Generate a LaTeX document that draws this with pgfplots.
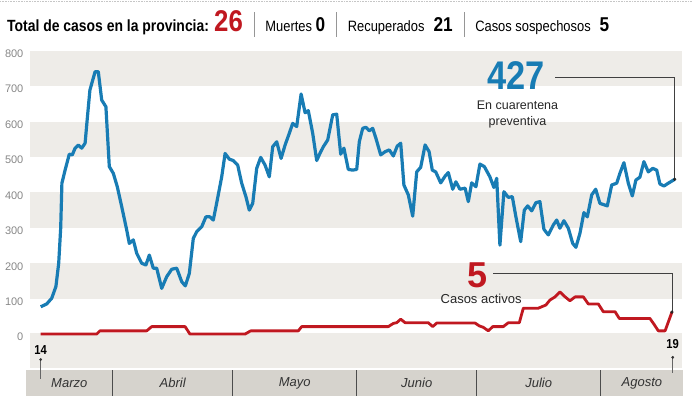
\documentclass[border=0pt]{standalone}
\usepackage{pgfplots}
\pgfplotsset{compat=1.18}
\usepackage{fontspec}
\setmainfont{Liberation Sans}
\newfontfamily\cond[FakeStretch=0.86]{Liberation Sans}
\definecolor{lineblue}{RGB}{24,124,180}
\definecolor{linered}{RGB}{192,24,32}
\definecolor{band}{RGB}{238,236,232}
\definecolor{monthbar}{RGB}{214,211,205}
\definecolor{ticktext}{RGB}{135,135,135}
\definecolor{sep}{RGB}{150,150,150}
\begin{document}
\begin{tikzpicture}[x=1pt,y=1pt]
\path[use as bounding box] (0,0) rectangle (692,396);
\draw[gray!45, densely dotted, line width=0.6pt] (0,394.5) -- (692,394.5);
\node[anchor=base west, inner sep=0] at (7,364) {\cond
 {\bfseries\fontsize{16.2}{17}\selectfont Total de casos en la provincia: }%
 {\color{linered}\bfseries\fontsize{30}{30}\selectfont 26}\hspace{11pt}%
 {\color{sep}\rule[-5pt]{0.6pt}{25pt}}\hspace{11pt}%
 {\fontsize{15}{16}\selectfont Muertes }{\bfseries\fontsize{20}{20}\selectfont 0}\hspace{11pt}%
 {\color{sep}\rule[-5pt]{0.6pt}{25pt}}\hspace{11pt}%
 {\fontsize{15}{16}\selectfont Recuperados\hspace{9pt}}{\bfseries\fontsize{20}{20}\selectfont 21}\hspace{11pt}%
 {\color{sep}\rule[-5pt]{0.6pt}{25pt}}\hspace{11pt}%
 {\fontsize{15}{16}\selectfont Casos sospechosos\hspace{9pt}}{\bfseries\fontsize{20}{20}\selectfont 5}};
\begin{axis}[
  at={(25.9pt,0pt)}, anchor=south west,
  scale only axis, width=656.8pt, height=345.2pt,
  xmin=-3.7, xmax=160.5, ymin=-175, ymax=800,
  clip=false,
  axis line style={draw=none},
  xtick=\empty,
  ytick={0,100,...,800},
  major tick length=0pt,
  /pgf/number format/assume math mode=true,
  yticklabel style={font=\fontsize{11}{11}\selectfont, text=ticktext, yshift=-3pt, xshift=1pt},
]
% background bands
\fill[band] (axis cs:-2.7,100) rectangle (axis cs:160.3,200);
\fill[band] (axis cs:-2.7,300) rectangle (axis cs:160.3,400);
\fill[band] (axis cs:-2.7,500) rectangle (axis cs:160.3,600);
\fill[band] (axis cs:-2.7,700) rectangle (axis cs:160.3,800);
\fill[band] (axis cs:-2.7,-96) rectangle (axis cs:160.3,2);
\fill[monthbar] (axis cs:-3.7,-102) rectangle (axis cs:160.6,-175);
\foreach \d in {18,48,79,109,140} {
  \edef\tmp{\noexpand\draw[black!70, line width=0.6pt] (axis cs:\d,-102) -- (axis cs:\d,-175);}\tmp
}
\node[font=\itshape\fontsize{13}{13}\selectfont, text=black!80] at (axis cs:7.15,-139) {Marzo};
\node[font=\itshape\fontsize{13}{13}\selectfont, text=black!80] at (axis cs:33,-139) {Abril};
\node[font=\itshape\fontsize{13}{13}\selectfont, text=black!80] at (axis cs:63.5,-139) {Mayo};
\node[font=\itshape\fontsize{13}{13}\selectfont, text=black!80] at (axis cs:94,-139) {Junio};
\node[font=\itshape\fontsize{13}{13}\selectfont, text=black!80] at (axis cs:124.5,-139) {Julio};
\node[font=\itshape\fontsize{13}{13}\selectfont, text=black!80] at (axis cs:150.3,-139) {Agosto};
% start / end markers
\draw[black!60, line width=0.5pt] (axis cs:0,-72) -- (axis cs:0,-126);
\draw[black!60, line width=0.5pt] (axis cs:158,-66) -- (axis cs:158,-110);
\addplot[only marks, mark=*, mark size=1.2pt, black!80] coordinates {(0,-72) (158,-66)};
\node[font=\cond\bfseries\fontsize{13}{13}\selectfont] at (axis cs:0,-45) {14};
\node[font=\cond\bfseries\fontsize{13}{13}\selectfont] at (axis cs:158,-28) {19};
% blue series
\addplot[lineblue, line width=3.2pt, line join=round] coordinates {
(0,77) (1.5,85) (2.75,101) (3.8,134) (4.5,200) (5.0,300) (5.3,426) (6.1,463) (7.15,508) (7.9,506) (8.6,525) (9.4,534) (10.25,525) (11.1,539) (11.65,609) (12.3,689) (13.6,741) (14.4,741) (15.25,661) (16.3,642) (17.15,473) (18.15,454) (19.15,416) (20.25,360) (21.5,294) (22.15,256) (23.15,266) (24,228) (25.25,200) (26.3,195) (27.15,223) (28.15,186) (29,186) (30.25,129) (31.5,162) (32.75,183) (34,186) (35.25,148) (36.15,136) (37.15,171) (38.15,270) (39,289) (40.25,303) (41.3,331) (42.3,331) (43.15,322) (44.15,379) (45.25,444) (46.1,510) (47.15,494) (48.15,490) (49.25,477) (50.25,426) (51.3,388) (52.15,350) (53,369) (54,468) (55,499) (56.1,477) (57.15,444) (58,529) (59,543) (60.1,496) (61.1,534) (62.15,567) (63,595) (64,586) (65.1,678) (66.1,625) (66.9,631) (68,567) (69,490) (69.8,510) (70.65,529) (71.75,548) (73,619) (74,621) (75,508) (75.8,525) (76.9,465) (78,463) (79,465) (79.65,543) (80.5,581) (81.3,584) (82.15,574) (83,581) (83.8,553) (85,506) (86.1,515) (87.15,520) (88.15,503) (89.15,531) (90,539) (90.8,421) (91.9,393) (93,333) (94,458) (95,471) (96.1,534) (97.1,515) (97.9,463) (98.75,458) (100,427) (101.1,446) (101.9,456) (103,409) (103.8,430) (104.8,409) (106.1,412) (106.9,374) (107.75,427) (108.8,416) (109.8,480) (110.9,473) (112.3,444) (113.3,414) (114,440) (114.8,251) (115.8,402) (116.9,386) (117.9,388) (118.8,331) (120,261) (120.9,350) (121.75,362) (122.75,348) (123.8,371) (124.8,374) (125.8,296) (126.9,280) (128.15,308) (129,322) (129.8,299) (130.8,320) (131.9,299) (133,256) (133.8,245) (134.8,284) (135.8,343) (136.65,331) (137.75,393) (138.75,409) (139.8,369) (141.65,362) (142.75,421) (144,426) (144.8,454) (145.8,484) (146.9,426) (147.9,390) (148.8,435) (149.8,443) (150.8,487) (151.9,458) (153,468) (154,463) (154.8,424) (155.8,418) (156.9,426) (158.5,437)
};
% red series
\addplot[linered, line width=2.8pt, line join=round] coordinates {
(0,0) (14,0) (14.8,9) (26.5,9) (27.75,21) (36.1,21) (37.3,0) (51.1,0) (52.5,9) (64.4,9) (65.25,21) (86.9,21) (88.15,30) (89,32) (90,42) (91.1,32) (96.9,32) (98,21) (99,31) (108.6,31) (109.65,23) (110.65,19) (111.9,9) (113,21) (115.65,21) (116.9,32) (119.65,32) (120.65,73) (124.4,73) (126.3,82) (127.3,96) (128.6,105) (129.8,119) (131.1,105) (132.3,94) (133.6,105) (135.65,105) (136.9,85) (139.4,85) (140.65,63) (143.6,63) (144.65,44) (152.3,44) (153.3,28) (154.4,9) (156.1,9) (157.8,62)
};
% annotations
\draw[black!75, line width=0.6pt] (axis cs:128.6,724) -- (axis cs:158.5,724) -- (axis cs:158.5,437);
\draw[black!75, line width=0.6pt] (axis cs:113.1,172) -- (axis cs:157.8,172) -- (axis cs:157.8,62);
\addplot[only marks, mark=*, mark size=1.4pt, black!85] coordinates {(158.5,437) (157.8,62)};
\node[font=\cond\bfseries\fontsize{40}{40}\selectfont, text=lineblue] at (axis cs:118.8,730) {427};
\node[font=\fontsize{12.5}{13}\selectfont, text=black!85] at (axis cs:119.2,645) {En cuarentena};
\node[font=\fontsize{12.5}{13}\selectfont, text=black!85] at (axis cs:119.2,598) {preventiva};
\node[font=\bfseries\fontsize{36}{36}\selectfont, text=linered] at (axis cs:109.2,167) {5};
\node[font=\fontsize{13}{13}\selectfont, text=black!85] at (axis cs:110.1,98) {Casos activos};
\end{axis}
\end{tikzpicture}
\end{document}
